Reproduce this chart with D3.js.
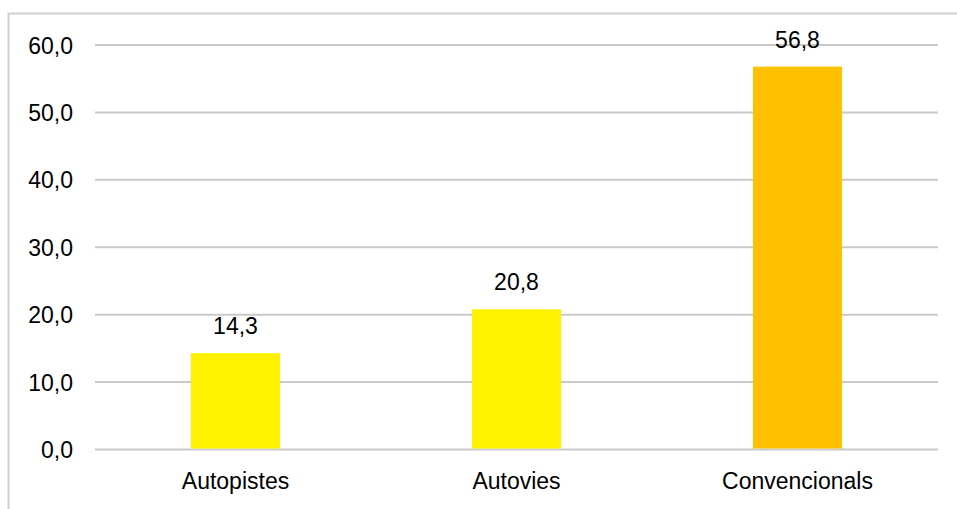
<!DOCTYPE html>
<html>
<head>
<meta charset="utf-8">
<script src="https://cdn.jsdelivr.net/npm/d3@7"></script>
<style>
  html, body { margin: 0; padding: 0; background: #fff; }
  svg { display: block; font-family: "Liberation Sans", Arial, sans-serif; }
</style>
</head>
<body>
<div id="chart"></div>
<script>
// Data
const categories = ["Autopistes", "Autovies", "Convencionals"];
const values = [14.3, 20.8, 56.8];
const barColors = ["#fff200", "#fff200", "#ffc000"];
const yTicks = [0, 10, 20, 30, 40, 50, 60];

const width = 957;
const height = 509;
const margin = {top: 45, right: 19, bottom: 59.5, left: 95};

const fmt = v => d3.format(".1f")(v).replace(".", ",");

const svg = d3.select("#chart").append("svg")
    .attr("width", width)
    .attr("height", height);

// outer frame (only top and left edges visible in the picture)
svg.append("path")
    .attr("d", `M8.5,${height} V13.5 H${width}`)
    .attr("fill", "none")
    .attr("stroke", "#cfcfcf")
    .attr("stroke-width", 2);

const x = d3.scaleBand()
    .domain(categories)
    .range([margin.left, width - margin.right])
    .paddingInner(0.683)
    .paddingOuter(0.3415);

const y = d3.scaleLinear()
    .domain([0, 60])
    .range([height - margin.bottom, margin.top]);

// gridlines
svg.append("g")
    .selectAll("line")
    .data(yTicks)
    .join("line")
      .attr("x1", margin.left)
      .attr("x2", width - margin.right)
      .attr("y1", d => y(d))
      .attr("y2", d => y(d))
      .attr("stroke", "#c9c9c9")
      .attr("stroke-width", 2);

// y tick labels
svg.append("g")
    .attr("font-size", 23)
    .attr("fill", "#000")
    .attr("text-anchor", "end")
  .selectAll("text")
  .data(yTicks)
  .join("text")
    .attr("x", 73)
    .attr("y", d => y(d) + 8.5)
    .text(d => fmt(d));

// bars
svg.append("g")
  .selectAll("rect")
  .data(values)
  .join("rect")
    .attr("x", (d, i) => x(categories[i]))
    .attr("width", x.bandwidth())
    .attr("y", d => y(d))
    .attr("height", d => y(0) - y(d) - 1)
    .attr("fill", (d, i) => barColors[i]);

// value labels
svg.append("g")
    .attr("font-size", 23)
    .attr("text-anchor", "middle")
  .selectAll("text")
  .data(values)
  .join("text")
    .attr("x", (d, i) => x(categories[i]) + x.bandwidth() / 2)
    .attr("y", d => y(d) - 19)
    .text(d => fmt(d));

// category labels
svg.append("g")
    .attr("font-size", 23)
    .attr("text-anchor", "middle")
  .selectAll("text")
  .data(categories)
  .join("text")
    .attr("x", d => x(d) + x.bandwidth() / 2)
    .attr("y", 489)
    .text(d => d);
</script>
</body>
</html>
